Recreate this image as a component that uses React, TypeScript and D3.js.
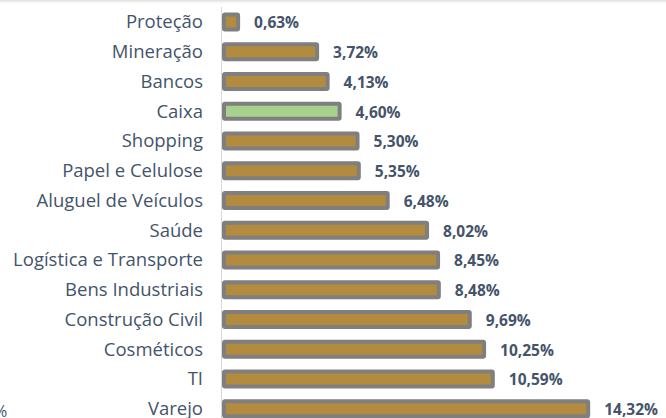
import React from "react";
import * as d3 from "d3";

const categories = [
  "Proteção",
  "Mineração",
  "Bancos",
  "Caixa",
  "Shopping",
  "Papel e Celulose",
  "Aluguel de Veículos",
  "Saúde",
  "Logística e Transporte",
  "Bens Industriais",
  "Construção Civil",
  "Cosméticos",
  "TI",
  "Varejo",
];
const values = [0.63, 3.72, 4.13, 4.6, 5.3, 5.35, 6.48, 8.02, 8.45, 8.48, 9.69, 10.25, 10.59, 14.32];
const highlight = ["Caixa"];

const W = 666;
const H = 418;

export default function App() {
  const x = d3.scaleLinear().domain([0, 14.32]).range([222, 222 + 25.57 * 14.32]);
  const y = d3.scaleBand<string>().domain(categories).range([7, 7 + 29.75 * 14]).padding(0);
  const barH = 15;
  const fmt = (v: number) => v.toFixed(2).replace(".", ",") + "%";
  const font = "'Open Sans', sans-serif";
  const textColor = "#44546A";

  return (
    <svg
      width={W}
      height={H}
      style={{ position: "absolute", left: 0, top: 0, display: "block", background: "#fff" }}
    >
      <defs>
        <linearGradient id="topShade" x1="0" y1="0" x2="0" y2="1">
          <stop offset="0" stopColor="#dcdcdc" />
          <stop offset="1" stopColor="#ffffff" stopOpacity="0" />
        </linearGradient>
      </defs>
      <rect x={0} y={0} width={W} height={5} fill="url(#topShade)" />
      <line x1={221.5} x2={221.5} y1={7} y2={H} stroke="#d9d9d9" strokeWidth={1} />
      {categories.map((c, i) => {
        const v = values[i];
        const cy = (y(c) as number) + y.bandwidth() / 2;
        const isHi = highlight.includes(c);
        return (
          <g key={c}>
            <text
              x={203}
              y={cy}
              dy="0.35em"
              textAnchor="end"
              fontFamily={font}
              fontSize={18.5}
              fill={textColor}
            >
              {c}
            </text>
            <rect
              x={x(0) + 2}
              y={cy - barH / 2}
              width={x(v) - x(0) - 2}
              height={barH}
              fill={isHi ? "#A9D18E" : "#B38B3E"}
              stroke="#7F7F7F"
              strokeWidth={4}
              rx={1}
            />
            <text
              x={x(v) + 16}
              y={cy + 1}
              dy="0.35em"
              fontFamily={font}
              fontWeight="bold"
              fontSize={15.5}
              fill={textColor}
            >
              {fmt(v)}
            </text>
          </g>
        );
      })}
      <text x={-6} y={417} fontFamily={font} fontSize={16} fill={textColor}>
        %
      </text>
    </svg>
  );
}
